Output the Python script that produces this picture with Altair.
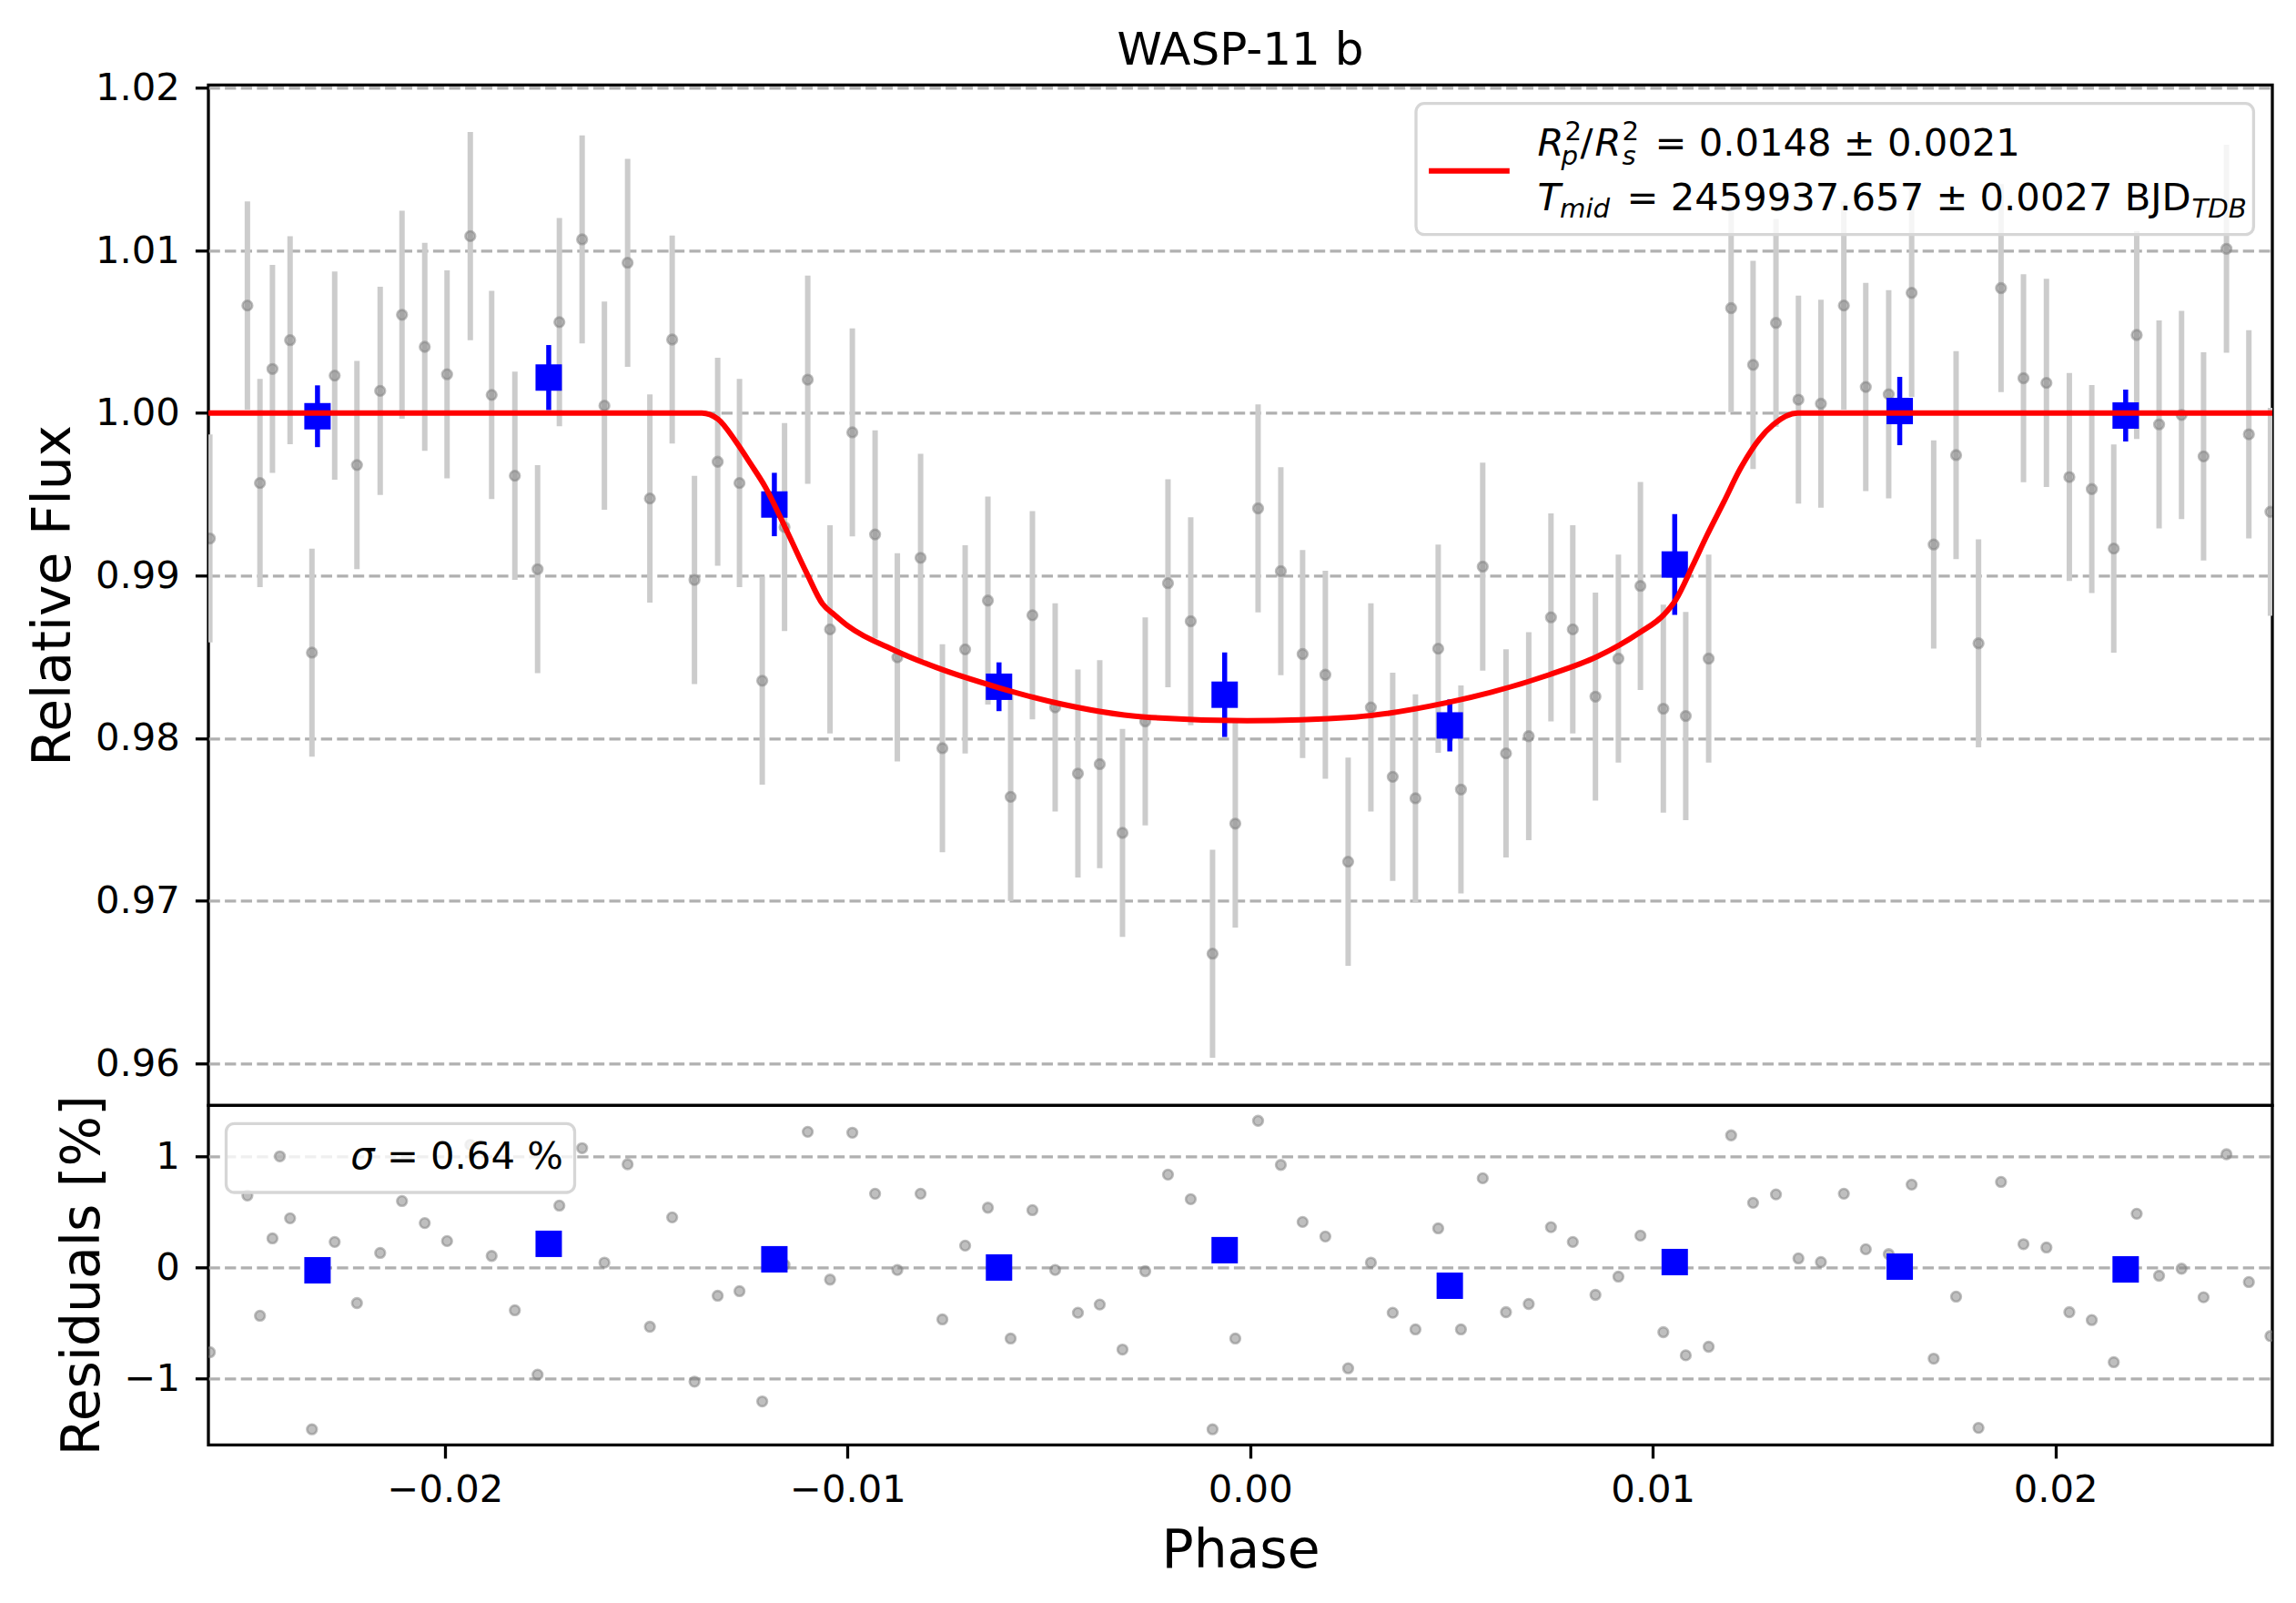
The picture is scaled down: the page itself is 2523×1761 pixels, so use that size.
import altair as alt
import pandas as pd

# ---------------- text ----------------
TITLE = "WASP-11 b"
X_TITLE = "Phase"
Y_TITLE_TOP = "Relative Flux"
Y_TITLE_RES = "Residuals [%]"

X_TICKS = [-0.02, -0.01, 0.0, 0.01, 0.02]
Y_TICKS_TOP = [0.96, 0.97, 0.98, 0.99, 1.00, 1.01, 1.02]
Y_TICKS_RES = [-1, 0, 1]

X_DOMAIN = [-0.025876, 0.025390]
Y_DOMAIN_TOP = [0.95741, 1.02018]
Y_DOMAIN_RES = [-1.596, 1.459]

# ---------------- data ----------------
phase = [
    -0.025840, -0.024907, -0.024595, -0.024285, -0.023847, -0.023304, -0.022739, -0.022186,
    -0.021609, -0.021067, -0.020502, -0.019948, -0.019371, -0.018840, -0.018264, -0.017699,
    -0.017158, -0.016593, -0.016039, -0.015463, -0.014910, -0.014356, -0.013802, -0.013226,
    -0.012684, -0.012119, -0.011565, -0.010989, -0.010435, -0.009881, -0.009316, -0.008763,
    -0.008186, -0.007644, -0.007079, -0.006514, -0.005949, -0.005408, -0.004843, -0.004278,
    -0.003736, -0.003171, -0.002606, -0.002041, -0.001476, -0.000934, -0.000369, 0.000197,
    0.000762, 0.001303, 0.001868, 0.002434, 0.002999, 0.003541, 0.004106, 0.004671,
    0.005236, 0.005777, 0.006355, 0.006920, 0.007472, 0.008014, 0.008577, 0.009147,
    0.009694, 0.010263, 0.010820, 0.011389, 0.011947, 0.012492, 0.013061, 0.013619,
    0.014177, 0.014747, 0.015292, 0.015861, 0.016431, 0.016978, 0.017535, 0.018092,
    0.018651, 0.019209, 0.019779, 0.020348, 0.020905, 0.021451, 0.022021, 0.022577,
    0.023135, 0.023682, 0.024251, 0.024807, 0.025343,
]
flux = [
    0.99228, 1.00661, 0.99569, 1.00271, 1.00448, 0.98526, 1.00230, 0.99680,
    1.00136, 1.00604, 1.00407, 1.00238, 1.01088, 1.00111, 0.99614, 0.99039,
    1.00559, 1.01068, 1.00045, 1.00924, 0.99474, 1.00452, 0.98973, 0.99700,
    0.99569, 0.98353, 0.99298, 1.00205, 0.98669, 0.99881, 0.99253, 0.98497,
    0.99109, 0.97938, 0.98546, 0.98846, 0.97639, 0.98756, 0.98189, 0.97782,
    0.97840, 0.97417, 0.98103, 0.98953, 0.98719, 0.96674, 0.97474, 0.99413,
    0.99027, 0.98517, 0.98390, 0.97240, 0.98189, 0.97762, 0.97630, 0.98550,
    0.97684, 0.99055, 0.97906, 0.98012, 0.98743, 0.98669, 0.98255, 0.98489,
    0.98936, 0.98181, 0.98136, 0.98489, 1.00645, 1.00296, 1.00554, 1.00082,
    1.00057, 1.00661, 1.00160, 1.00115, 1.00739, 0.99191, 0.99741, 0.98583,
    1.00768, 1.00214, 1.00185, 0.99606, 0.99532, 0.99166, 1.00480, 0.99930,
    0.99988, 0.99733, 1.01010, 0.99869, 0.99392,
]
flux_err = 0.0064
resid_pct = [
    -0.762, 0.648, -0.434, 0.262, 0.443, -1.456, 0.230, -0.320,
    0.131, 0.598, 0.400, 0.238, 1.104, 0.104, -0.385, -0.964,
    0.557, 1.074, 0.044, 0.929, -0.533, 0.451, -1.027, -0.254,
    -0.213, -1.205, 0.025, 1.221, -0.109, 1.213, 0.664, -0.022,
    0.664, -0.467, 0.197, 0.538, -0.639, 0.516, -0.022, -0.407,
    -0.333, -0.738, -0.033, 0.836, 0.615, -1.456, -0.639, 1.320,
    0.923, 0.410, 0.279, -0.907, 0.044, -0.407, -0.557, 0.352,
    -0.557, 0.803, -0.402, -0.328, 0.363, 0.230, -0.246, -0.082,
    0.287, -0.582, -0.790, -0.713, 1.189, 0.582, 0.658, 0.082,
    0.049, 0.664, 0.164, 0.120, 0.746, -0.820, -0.262, -1.443,
    0.770, 0.210, 0.180, -0.402, -0.473, -0.852, 0.484, -0.074,
    -0.011, -0.268, 1.019, -0.131, -0.617,
]

bin_phase = [-0.023166, -0.017423, -0.011818, -0.006238, -0.000633, 0.004959, 0.010546, 0.016135, 0.021747]
bin_flux = [0.99980, 1.00218, 0.99437, 0.98316, 0.98267, 0.98078, 0.99068, 1.00012, 0.99984]
bin_err = [0.0019, 0.0020, 0.00195, 0.0015, 0.0026, 0.0016, 0.0031, 0.0021, 0.0016]
bin_resid_pct = [-0.025, 0.213, 0.074, 0.000, 0.156, -0.164, 0.049, 0.008, -0.016]

model_phase = [
    -0.02588, -0.01362, -0.01322, -0.01276, -0.01241, -0.01206, -0.01149, -0.01102,
    -0.01062, -0.01033, -0.00999, -0.00883, -0.00780, -0.00624, -0.00491, -0.00261,
    -0.00008, 0.00261, 0.00489, 0.00743, 0.00861, 0.00968, 0.01028, 0.01057,
    0.01099, 0.01134, 0.01176, 0.01217, 0.01265, 0.01300, 0.01360, 0.02539,
]
model_flux = [
    1.0, 1.0, 0.99963, 0.99819, 0.99688, 0.99552, 0.99265, 0.99018,
    0.98825, 0.98760, 0.98690, 0.98540, 0.98435, 0.98310, 0.98222, 0.98130,
    0.98107, 0.98130, 0.98218, 0.98390, 0.98500, 0.98650, 0.98760, 0.98850,
    0.99060, 0.99244, 0.99450, 0.99655, 0.99840, 0.99930, 1.0, 1.0,
]

# legend text pieces: (text, italic, small)
LEG_TOP_TEXT = [
    ("R", True, False), ("2", False, True), ("p", True, True), ("/", False, False),
    ("R", True, False), ("2", False, True), ("s", True, True),
    ("= 0.0148 ± 0.0021", False, False),
    ("T", True, False), ("mid", True, True),
    ("= 2459937.657 ± 0.0027 BJD", False, False), ("TDB", True, True),
]
LEG_RES_TEXT = [("σ", True, False), ("= 0.64 %", False, False)]

# ---------------- layout / style ----------------
FONT = "DejaVu Sans"
FS = 41.7
FS_SMALL = 29.2
FS_LABEL = 58.3
W = 2268
H_TOP = 1121
H_RES = 373

# positions (pixels inside each panel) of the legend pieces
LEG_TOP_POS = [
    (1460.5, 77.7), (1490.5, 61.0), (1486.5, 88.0), (1507.5, 77.7),
    (1523.5, 77.7), (1553.5, 61.0), (1553.5, 88.0), (1589.5, 77.7),
    (1460.5, 137.7), (1485.0, 145.5), (1558.5, 137.7), (2179.5, 145.5),
]
LEG_RES_POS = [(156.2, 70.0), (195.9, 70.0)]

one = pd.DataFrame({"k": [0]})

pts = pd.DataFrame({"phase": phase, "flux": flux, "resid": resid_pct})
pts["lo"] = pts["flux"] - flux_err
pts["hi"] = pts["flux"] + flux_err

bins = pd.DataFrame({"phase": bin_phase, "flux": bin_flux, "err": bin_err, "resid": bin_resid_pct})
bins["lo"] = bins["flux"] - bins["err"]
bins["hi"] = bins["flux"] + bins["err"]

model = pd.DataFrame({"phase": model_phase, "flux": model_flux})

xs = alt.Scale(domain=X_DOMAIN, nice=False, zero=False)
ys_top = alt.Scale(domain=Y_DOMAIN_TOP, nice=False, zero=False)
ys_res = alt.Scale(domain=Y_DOMAIN_RES, nice=False, zero=False)

axis_common = dict(
    labelFont=FONT, labelFontSize=FS, labelColor="black",
    tickColor="black", tickWidth=3.3, tickSize=14.6, domain=False,
    titleFont=FONT, titleFontSize=FS_LABEL, titleFontWeight="normal", titleColor="black",
    labelFlush=False, labelOverlap=False,
)
grid_style = dict(grid=True, gridColor="#b0b0b0", gridDash=[12.3, 5.3], gridWidth=3.3)

y_axis_top = alt.Axis(
    values=Y_TICKS_TOP, format=".2f", title=Y_TITLE_TOP,
    titleX=-152.5, titleY=H_TOP / 2, titleAngle=270, titleAlign="center",
    titleBaseline="alphabetic", labelPadding=17, **grid_style, **axis_common,
)
y_axis_res = alt.Axis(
    values=Y_TICKS_RES, format="d", title=Y_TITLE_RES,
    titleX=-120.7, titleY=H_RES / 2, titleAngle=270, titleAlign="center",
    titleBaseline="alphabetic", labelPadding=17, **grid_style, **axis_common,
)
x_axis_res = alt.Axis(
    values=X_TICKS, format=".2f", title=X_TITLE, titleY=134,
    titleBaseline="alphabetic", labelPadding=15, grid=False, **axis_common,
)

x_top = alt.X("phase:Q", scale=xs, axis=None)
x_res = alt.X("phase:Q", scale=xs, axis=x_axis_res)

circle_style = dict(size=115, color="gray", fillOpacity=0.5, stroke="gray",
                    strokeOpacity=0.5, strokeWidth=2.6, opacity=1)

# ---------------- top panel ----------------
err_rules = alt.Chart(pts).mark_rule(color="#cccccc", strokeWidth=6, clip=True).encode(
    x=x_top, y=alt.Y("lo:Q", scale=ys_top, axis=y_axis_top), y2="hi:Q")
dots = alt.Chart(pts).mark_circle(clip=True, **circle_style).encode(
    x=x_top, y=alt.Y("flux:Q", scale=ys_top, axis=y_axis_top))
bin_rules = alt.Chart(bins).mark_rule(color="blue", strokeWidth=5.5, clip=True).encode(
    x=x_top, y=alt.Y("lo:Q", scale=ys_top, axis=y_axis_top), y2="hi:Q")
bin_sq = alt.Chart(bins).mark_square(size=841, color="blue", opacity=1, clip=True).encode(
    x=x_top, y=alt.Y("flux:Q", scale=ys_top, axis=y_axis_top))
model_line = alt.Chart(model).mark_line(color="red", strokeWidth=6, interpolate="monotone", clip=True).encode(
    x=x_top, y=alt.Y("flux:Q", scale=ys_top, axis=y_axis_top))

leg_box = alt.Chart(one).mark_rect(
    fill="white", fillOpacity=0.8, stroke="#d6d6d6", strokeWidth=3.3, cornerRadius=9
).encode(x=alt.value(1327), x2=alt.value(2247.4), y=alt.value(20.4), y2=alt.value(164.4))
leg_handle = alt.Chart(one).mark_rule(color="red", strokeWidth=6).encode(
    x=alt.value(1341.1), x2=alt.value(1429.8), y=alt.value(94.4))


def text_layers(pieces, positions):
    out = []
    for (txt, italic, small), (px, py) in zip(pieces, positions):
        out.append(
            alt.Chart(one).mark_text(
                text=txt, align="left", baseline="alphabetic", font=FONT,
                fontSize=FS_SMALL if small else FS,
                fontStyle="italic" if italic else "normal", color="black",
            ).encode(x=alt.value(px), y=alt.value(py))
        )
    return out


top = alt.layer(
    err_rules, dots, bin_rules, bin_sq, model_line, leg_box, leg_handle,
    *text_layers(LEG_TOP_TEXT, LEG_TOP_POS),
).properties(
    width=W, height=H_TOP,
    title=alt.TitleParams(TITLE, font=FONT, fontSize=50, fontWeight="normal", color="black",
                          baseline="alphabetic", anchor="middle", frame="group", offset=4, dy=48),
)

# ---------------- residual panel ----------------
res_dots = alt.Chart(pts).mark_circle(clip=True, **circle_style).encode(
    x=x_res, y=alt.Y("resid:Q", scale=ys_res, axis=y_axis_res))
res_sq = alt.Chart(bins).mark_square(size=841, color="blue", opacity=1, clip=True).encode(
    x=x_res, y=alt.Y("resid:Q", scale=ys_res, axis=y_axis_res))
res_box = alt.Chart(one).mark_rect(
    fill="white", fillOpacity=0.8, stroke="#d6d6d6", strokeWidth=3.3, cornerRadius=9
).encode(x=alt.value(19.5), x2=alt.value(402.5), y=alt.value(20.0), y2=alt.value(95.7))
res_marker = alt.Chart(one).mark_circle(**circle_style).encode(x=alt.value(78.5), y=alt.value(56.0))

bottom = alt.layer(
    res_dots, res_sq, res_box, res_marker, *text_layers(LEG_RES_TEXT, LEG_RES_POS),
).properties(width=W, height=H_RES)

chart = alt.vconcat(top, bottom, spacing=0, bounds="flush").properties(
    padding={"left": 19, "top": 20.3, "right": 10, "bottom": 10},
).configure_view(stroke="black", strokeWidth=3.3)

chart.save("out.html", embed_options={"renderer": "svg", "actions": False})
